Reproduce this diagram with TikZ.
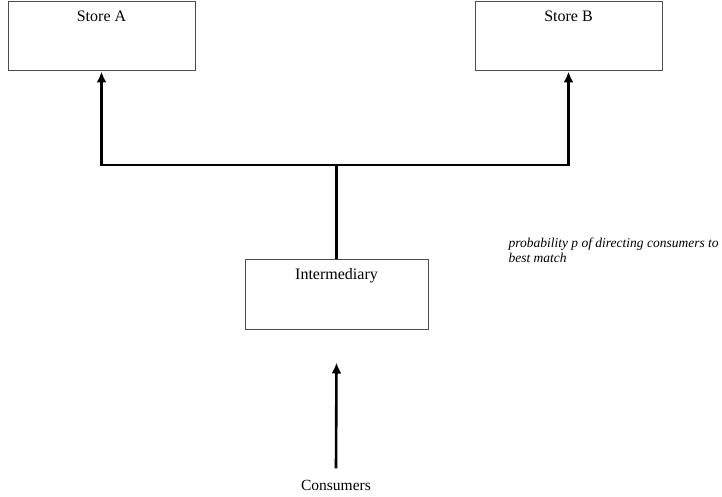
\documentclass[tikz,border=0pt]{standalone}
\usepackage{fontspec}
\setmainfont{Liberation Serif}
\usetikzlibrary{arrows.meta,positioning,calc}

\begin{document}
\begin{tikzpicture}[
            x=1pt, y=-1pt,
            box/.style={
                    rectangle,
                    draw=black!70,
                    line width=1pt,
                    fill=white,
                    minimum width=187pt,
                    minimum height=69pt,
                    inner sep=0pt
                },
            boxlabel/.style={
                    anchor=north,
                    yshift=-6pt,
                    font=\fontsize{16}{18}\selectfont
                },
            arrow/.style={-{Latex[length=11pt,width=10pt]}, line width=2.6pt}
        ]
        \useasboundingbox (0,0) rectangle (722,497);

        \node[box, label={[boxlabel]north:Store A}] (storeA) at (101.5,36.5) {};
        \node[box, label={[boxlabel]north:Store B}] (storeB) at (568.5,36.5) {};
        \node[box, minimum width=183pt, minimum height=70pt,
              label={[boxlabel]north:Intermediary}] (inter) at (336.5,294) {};
        \node[font=\fontsize{15.5}{18}\selectfont] (consumers) at (336,485) {Consumers};
        \node[anchor=west, align=left, font=\itshape\fontsize{13.5}{15}\selectfont]
            (note) at (505,250) {probability p of directing consumers to\\best match};

        \coordinate (join) at (inter.north |- 0,165);
        \coordinate (entry) at ($(inter.south)+(0,33)$);

        \draw[line width=2.6pt] (inter.north) -- (join);
        \draw[arrow] (join) -| (storeA.south);
        \draw[arrow] (join) -| (storeB.south);
        \draw[arrow] ($(consumers.north)+(0,-8)$) -- (entry);
    \end{tikzpicture}
\end{document}
